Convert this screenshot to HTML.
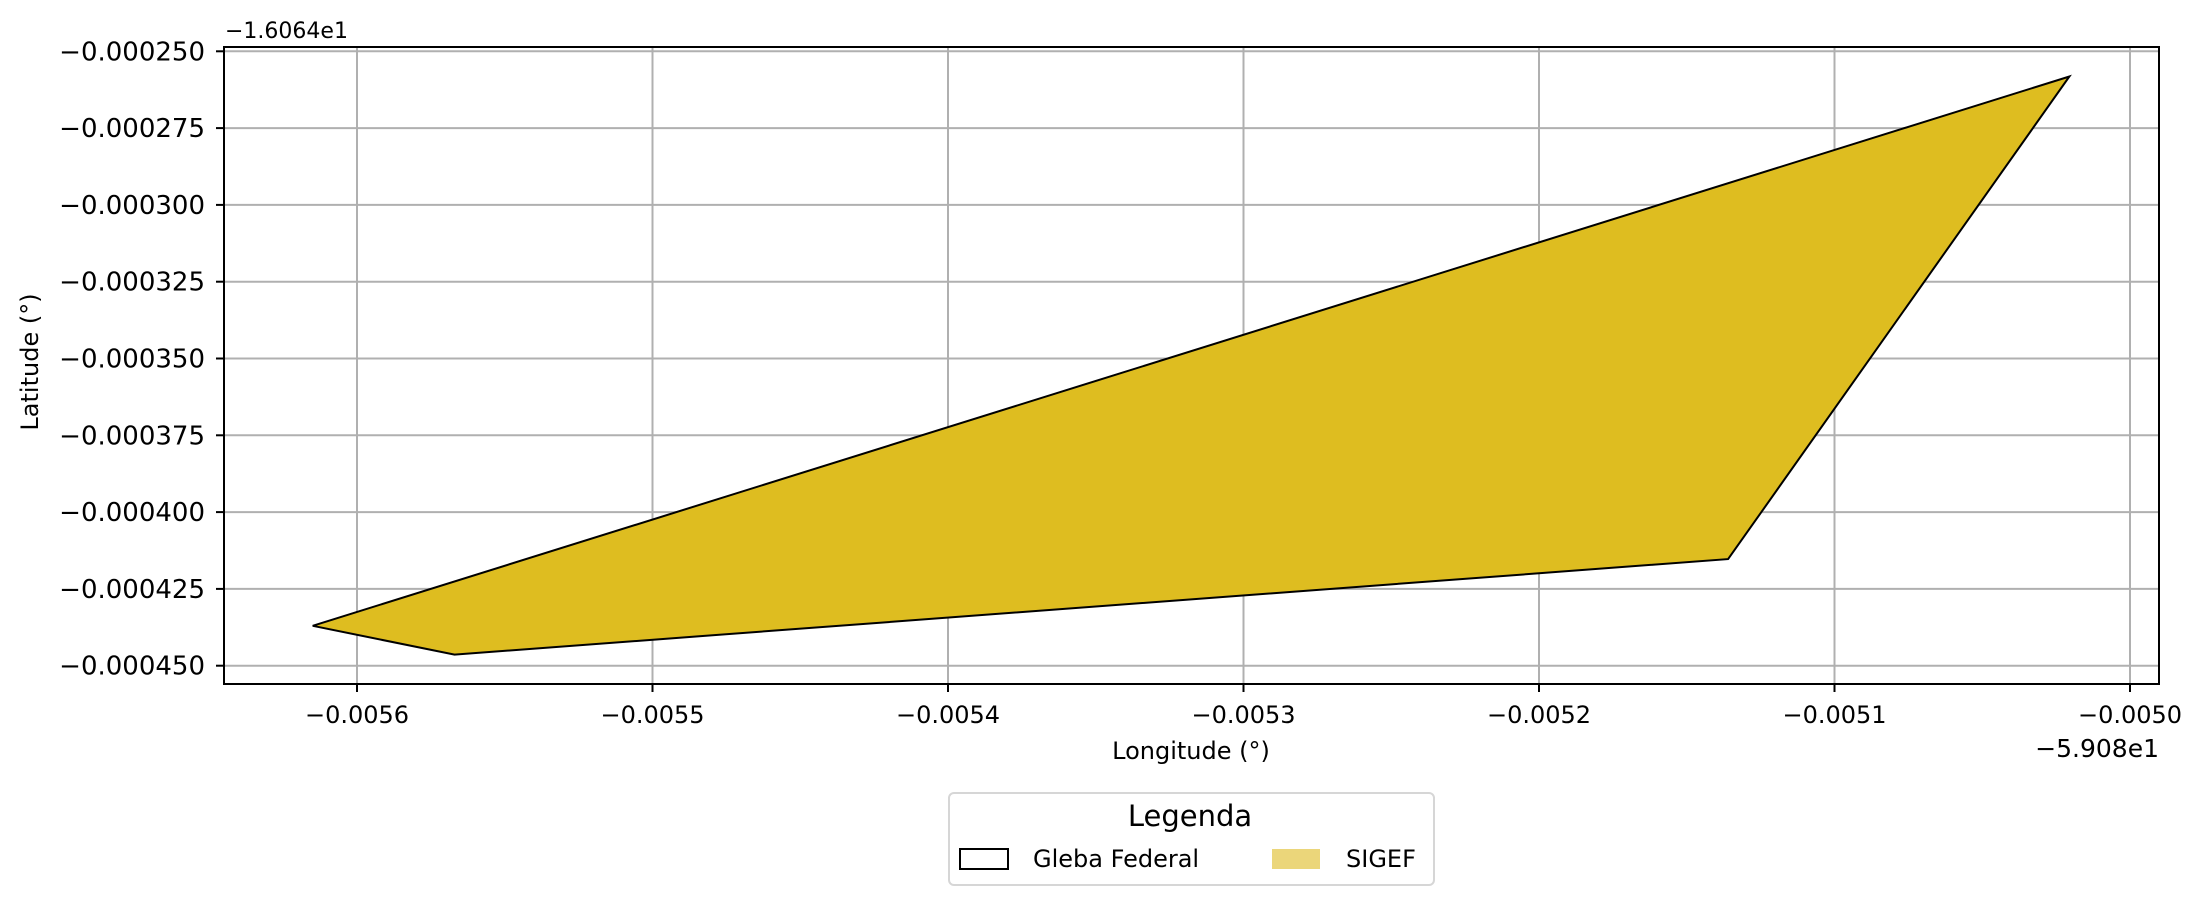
<!DOCTYPE html>
<html><head><meta charset="utf-8"><style>
html,body{margin:0;padding:0;background:#fff;overflow:hidden;}
svg{display:block;font-family:"DejaVu Sans","Liberation Sans",sans-serif;}
</style></head><body>
<div style="position:relative;width:2207px;height:904px;">
<svg id="chart" width="2207" height="904" viewBox="0 0 2207 904" style="position:absolute;left:0;top:0;">
<text x="225" y="38" font-size="22">−1.6064e1</text>
<text x="2159" y="757" font-size="25" text-anchor="end">−5.908e1</text>
<text x="1191" y="759" font-size="24" text-anchor="middle">Longitude (°)</text>
<text x="0" y="0" font-size="24" text-anchor="middle" transform="translate(38,362) rotate(-90)">Latitude (°)</text>
<g>
<rect x="949" y="793" width="485" height="92" rx="5" fill="#fff" stroke="#d6d6d6" stroke-width="2"/>
<text x="1190" y="826" font-size="29" text-anchor="middle">Legenda</text>
<rect x="960" y="849" width="48" height="20" fill="#fff" stroke="#000" stroke-width="2"/>
<text x="1033" y="867" font-size="24">Gleba Federal</text>
<rect x="1272" y="849" width="48" height="20" fill="#ebd67a"/>
<text x="1346" y="867" font-size="24">SIGEF</text>
</g>
</svg>
</div>
<script>
const xTicks = [-0.0056, -0.0055, -0.0054, -0.0053, -0.0052, -0.0051, -0.0050];
const xTickLabels = ["−0.0056","−0.0055","−0.0054","−0.0053","−0.0052","−0.0051","−0.0050"];
const yTicks = [-0.000250,-0.000275,-0.000300,-0.000325,-0.000350,-0.000375,-0.000400,-0.000425,-0.000450];
const yTickLabels = ["−0.000250","−0.000275","−0.000300","−0.000325","−0.000350","−0.000375","−0.000400","−0.000425","−0.000450"];
const polyLon = [-0.005615, -0.005567, -0.005136, -0.0050205];
const polyLat = [-0.000437, -0.0004464, -0.0004153, -0.0002582];

const NS = "http://www.w3.org/2000/svg";
const svg = document.getElementById('chart');
const L = 224, R = 2159, T = 47, B = 684;
function xs(v){ return 357 + (v + 0.0056) / 0.0001 * 295.5; }
function ys(v){ return 665.7 - (v + 0.00045) / 0.000025 * 76.8; }
function mk(tag, attrs, txt){
  const e = document.createElementNS(NS, tag);
  for (const k in attrs) e.setAttribute(k, attrs[k]);
  if (txt !== undefined) e.textContent = txt;
  svg.appendChild(e);
  return e;
}
xTicks.forEach((v)=>{
  const g = mk('line',{x1:xs(v),x2:xs(v),y1:T,y2:B,stroke:'#b0b0b0','stroke-width':2});
  
  
});
yTicks.forEach((v)=>{
  const g = mk('line',{x1:L,x2:R,y1:ys(v),y2:ys(v),stroke:'#b0b0b0','stroke-width':2});
  
  
});
const pts = polyLon.map((lon,i)=>xs(lon).toFixed(1)+','+ys(polyLat[i]).toFixed(1)).join(' ');
const poly = mk('polygon',{points:pts,fill:'#debd20',stroke:'#000','stroke-width':2});


const fr = mk('rect',{x:L,y:T,width:R-L,height:B-T,fill:'none',stroke:'#000','stroke-width':2});


xTicks.forEach((v,i)=>{
  mk('line',{x1:xs(v),x2:xs(v),y1:B,y2:B+8,stroke:'#000','stroke-width':2});
  const t = mk('text',{x:xs(v),y:723,'font-size':24,'text-anchor':'middle'},xTickLabels[i]);
  
  
});
yTicks.forEach((v,i)=>{
  mk('line',{x1:L-8,x2:L,y1:ys(v),y2:ys(v),stroke:'#000','stroke-width':2});
  const t = mk('text',{x:205,y:ys(v)+9,'font-size':26,'text-anchor':'end'},yTickLabels[i]);
  
  
});
</script>
</body></html>
